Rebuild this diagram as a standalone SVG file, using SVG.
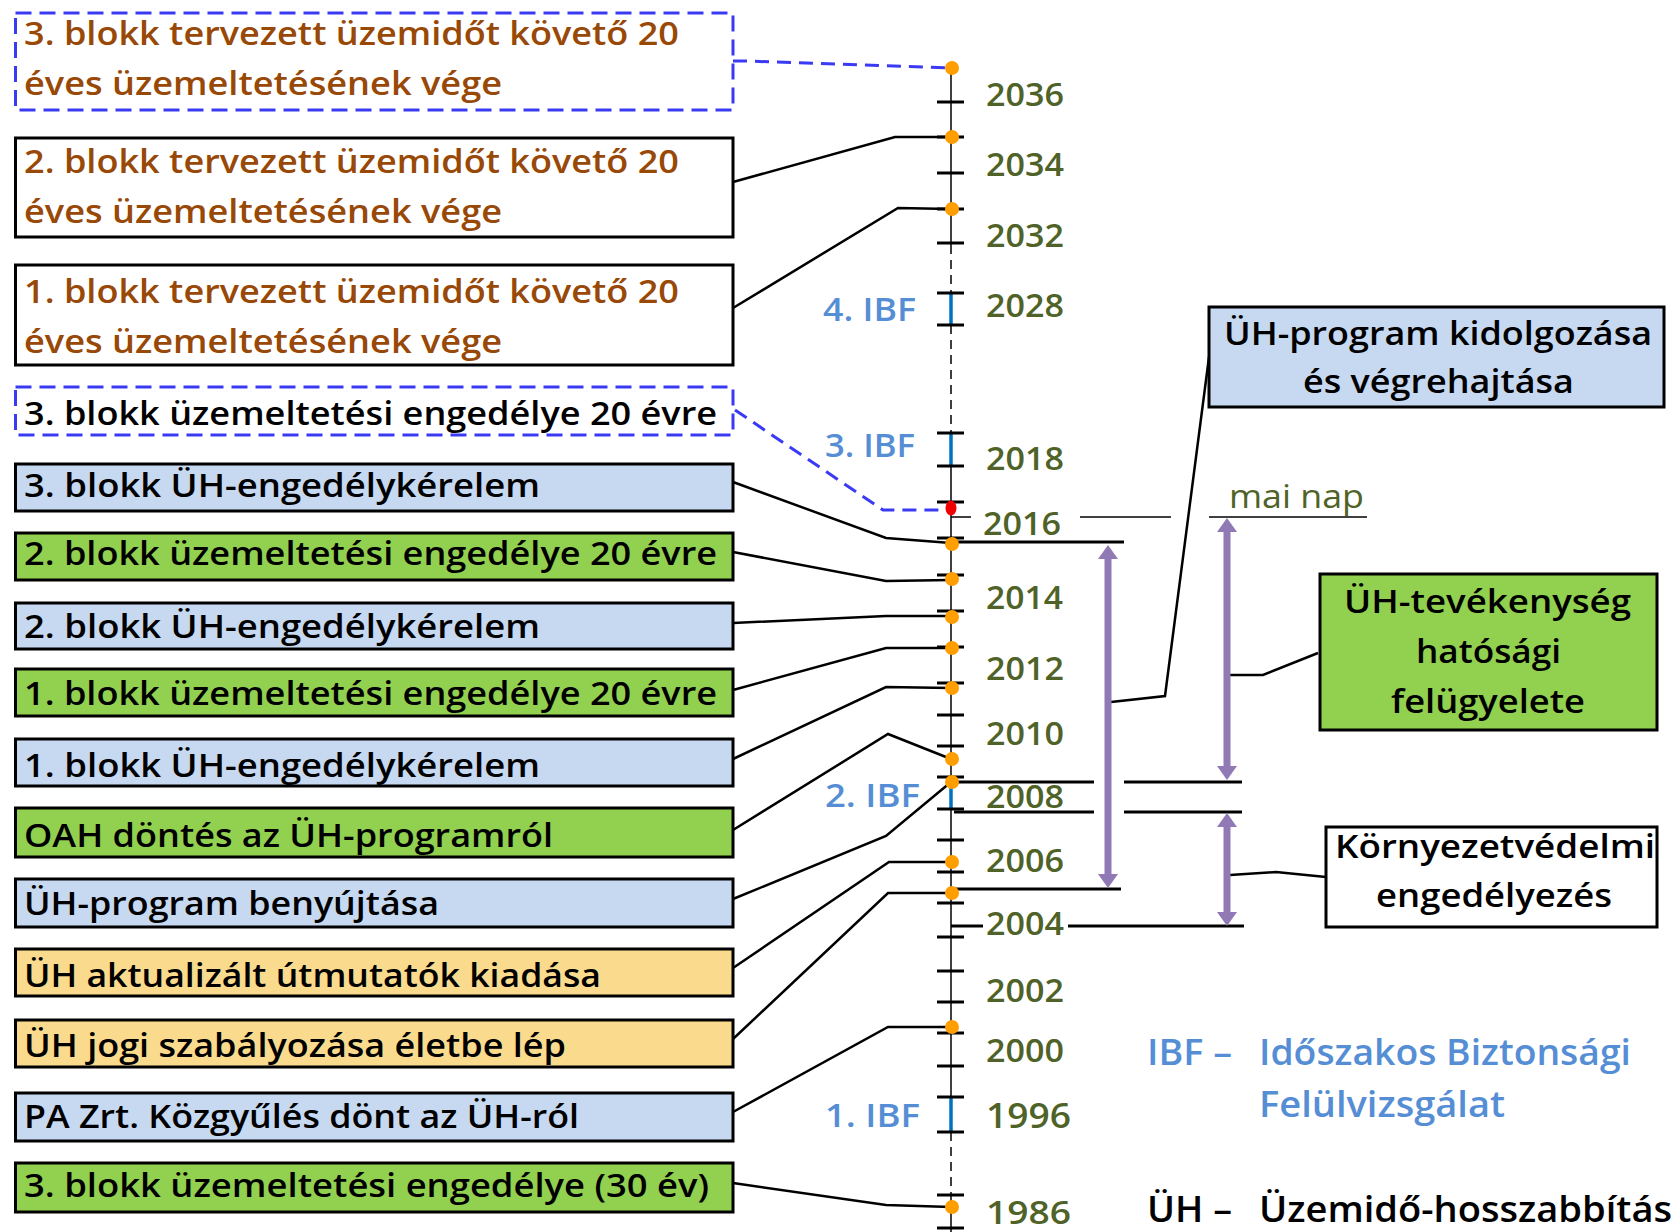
<svg xmlns="http://www.w3.org/2000/svg" width="1680" height="1232" viewBox="0 0 1680 1232">
<defs>
<style>
.t{font-family:"Open Sans","Liberation Sans",sans-serif;font-size:33px;font-weight:600;fill:#000}
.br{fill:#984807}
.yr{font-family:"Open Sans","Liberation Sans",sans-serif;font-size:32px;font-weight:600;fill:#4F6228}
.yb{font-size:35px}
.ibf{font-family:"Open Sans","Liberation Sans",sans-serif;font-size:32px;font-weight:600;fill:#558ED5}
.lg{font-family:"Open Sans","Liberation Sans",sans-serif;font-size:36px;font-weight:600}
.box{stroke:#000;stroke-width:3}
.dbox{fill:#fff;stroke:#3A3AF5;stroke-width:3;stroke-dasharray:16 8}
.blue{fill:#C6D9F1}
.green{fill:#92D050}
.yel{fill:#FADB8E}
.white{fill:#fff}
.con{fill:none;stroke:#000;stroke-width:2.5}
.dcon{fill:none;stroke:#3A3AF5;stroke-width:3;stroke-dasharray:14 8}
.tick{stroke:#000;stroke-width:3}
.seg{stroke:#0070C0;stroke-width:3.5}
.dot{fill:#FF9E00}
.arr{stroke:#9079B5;stroke-width:7;fill:none;marker-start:url(#ah);marker-end:url(#ah)}
.hl{stroke:#000;stroke-width:3}
.thin{stroke:#000;stroke-width:1.5}
</style>
<marker id="ah" viewBox="0 0 14 20" refX="0" refY="10" markerWidth="14" markerHeight="20" markerUnits="userSpaceOnUse" orient="auto-start-reverse">
<path d="M0,0 L14,10 L0,20 z" fill="#9079B5"/>
</marker>
</defs>
<rect width="1680" height="1232" fill="#fff"/>

<g id="axis">
<line x1="951" y1="68" x2="951" y2="245" class="thin"/>
<line x1="951" y1="245" x2="951" y2="293" class="thin" stroke-dasharray="9 6"/>
<line x1="951" y1="325" x2="951" y2="433" class="thin" stroke-dasharray="9 6"/>
<line x1="951" y1="433" x2="951" y2="1132" class="thin"/>
<line x1="951" y1="1132" x2="951" y2="1195" class="thin" stroke-dasharray="9 6"/>
<line x1="951" y1="1195" x2="951" y2="1232" class="thin"/>
<line x1="951" y1="293" x2="951" y2="325" class="seg"/>
<line x1="951" y1="433" x2="951" y2="466" class="seg"/>
<line x1="951" y1="777" x2="951" y2="808" class="seg"/>
<line x1="951" y1="1097" x2="951" y2="1132" class="seg"/>
<g class="tick">
<line x1="937" y1="102" x2="964" y2="102"/>
<line x1="937" y1="137" x2="964" y2="137"/>
<line x1="937" y1="173" x2="964" y2="173"/>
<line x1="937" y1="209" x2="964" y2="209"/>
<line x1="937" y1="243" x2="964" y2="243"/>
<line x1="937" y1="293" x2="964" y2="293"/>
<line x1="937" y1="325" x2="964" y2="325"/>
<line x1="937" y1="433" x2="964" y2="433"/>
<line x1="937" y1="466" x2="964" y2="466"/>
<line x1="937" y1="502" x2="964" y2="502"/>
<line x1="937" y1="538" x2="964" y2="538"/>
<line x1="937" y1="575" x2="964" y2="575"/>
<line x1="937" y1="611" x2="964" y2="611"/>
<line x1="937" y1="647" x2="964" y2="647"/>
<line x1="937" y1="683" x2="964" y2="683"/>
<line x1="937" y1="715" x2="964" y2="715"/>
<line x1="937" y1="746" x2="964" y2="746"/>
<line x1="937" y1="777" x2="964" y2="777"/>
<line x1="937" y1="809" x2="964" y2="809"/>
<line x1="937" y1="840" x2="964" y2="840"/>
<line x1="937" y1="872" x2="964" y2="872"/>
<line x1="937" y1="903" x2="964" y2="903"/>
<line x1="937" y1="937" x2="964" y2="937"/>
<line x1="937" y1="971" x2="964" y2="971"/>
<line x1="937" y1="1002" x2="964" y2="1002"/>
<line x1="937" y1="1033" x2="964" y2="1033"/>
<line x1="937" y1="1066" x2="964" y2="1066"/>
<line x1="937" y1="1097" x2="964" y2="1097"/>
<line x1="937" y1="1132" x2="964" y2="1132"/>
<line x1="937" y1="1195" x2="964" y2="1195"/>
<line x1="937" y1="1228" x2="964" y2="1228"/>
</g>
</g>

<g id="years">
<text class="yr" x="986" y="106" textLength="78" lengthAdjust="spacingAndGlyphs">2036</text>
<text class="yr" x="986" y="176" textLength="78" lengthAdjust="spacingAndGlyphs">2034</text>
<text class="yr" x="986" y="247" textLength="78" lengthAdjust="spacingAndGlyphs">2032</text>
<text class="yr" x="986" y="317" textLength="78" lengthAdjust="spacingAndGlyphs">2028</text>
<text class="yr" x="986" y="470" textLength="78" lengthAdjust="spacingAndGlyphs">2018</text>
<text class="yr" x="983" y="535" textLength="78" lengthAdjust="spacingAndGlyphs">2016</text>
<text class="yr" x="986" y="609" textLength="77" lengthAdjust="spacingAndGlyphs">2014</text>
<text class="yr" x="986" y="680" textLength="78" lengthAdjust="spacingAndGlyphs">2012</text>
<text class="yr" x="986" y="745" textLength="78" lengthAdjust="spacingAndGlyphs">2010</text>
<text class="yr" x="986" y="808" textLength="78" lengthAdjust="spacingAndGlyphs">2008</text>
<text class="yr" x="986" y="872" textLength="78" lengthAdjust="spacingAndGlyphs">2006</text>
<text class="yr" x="986" y="935" textLength="78" lengthAdjust="spacingAndGlyphs">2004</text>
<text class="yr" x="986" y="1002" textLength="78" lengthAdjust="spacingAndGlyphs">2002</text>
<text class="yr" x="986" y="1062" textLength="78" lengthAdjust="spacingAndGlyphs">2000</text>
<text class="yr yb" x="986" y="1128" textLength="85" lengthAdjust="spacingAndGlyphs">1996</text>
<text class="yr" x="986" y="1224" font-size="34" textLength="85" lengthAdjust="spacingAndGlyphs">1986</text>
</g>

<g id="ibf-labels">
<text class="ibf" x="823" y="321" textLength="93" lengthAdjust="spacingAndGlyphs">4. IBF</text>
<text class="ibf" x="825" y="457" textLength="90" lengthAdjust="spacingAndGlyphs">3. IBF</text>
<text class="ibf" x="825" y="807" textLength="95" lengthAdjust="spacingAndGlyphs">2. IBF</text>
<text class="ibf" x="825" y="1127" textLength="95" lengthAdjust="spacingAndGlyphs">1. IBF</text>
</g>

<g id="connectors">
<polyline class="dcon" points="733,61 745,61 951,68"/>
<polyline class="con" points="733,182 895,137 951,137"/>
<polyline class="con" points="733,308 898,208 951,209"/>
<polyline class="dcon" points="735,410 883,510 951,510"/>
<polyline class="con" points="733,482 886,538 951,543"/>
<polyline class="con" points="733,552 886,581 951,580"/>
<polyline class="con" points="733,623 886,616 951,616"/>
<polyline class="con" points="733,690 886,648 951,648"/>
<polyline class="con" points="733,759 886,687 951,688"/>
<polyline class="con" points="733,830 888,734 951,759"/>
<polyline class="con" points="733,899 886,836 951,782"/>
<polyline class="con" points="733,968 889,862 951,862"/>
<polyline class="con" points="733,1039 888,893 951,893"/>
<polyline class="con" points="733,1112 888,1027 951,1027"/>
<polyline class="con" points="733,1183 886,1205 951,1207"/>
<polyline class="con" points="1111,702 1165,696 1209,357"/>
<polyline class="con" points="1230,675 1263,675 1318,653"/>
<polyline class="con" points="1230,875 1276,872 1326,877"/>
<g>
<line class="thin" x1="951" y1="517" x2="971" y2="517"/>
<line class="thin" x1="1080" y1="517" x2="1171" y2="517"/>
<line class="thin" x1="1209" y1="517" x2="1367" y2="517"/>
<line class="hl" x1="954" y1="542" x2="1124" y2="542"/>
<line class="hl" x1="954" y1="889" x2="1121" y2="889"/>
<line class="hl" x1="954" y1="782" x2="1094" y2="782"/>
<line class="hl" x1="1124" y1="782" x2="1242" y2="782"/>
<line class="hl" x1="954" y1="812" x2="1094" y2="812"/>
<line class="hl" x1="1124" y1="812" x2="1242" y2="812"/>
<line class="hl" x1="951" y1="926" x2="983" y2="926"/>
<line class="hl" x1="1068" y1="926" x2="1244" y2="926"/>
</g>
<line class="arr" x1="1108" y1="559" x2="1108" y2="874"/>
<line class="arr" x1="1227" y1="532" x2="1227" y2="766"/>
<line class="arr" x1="1227" y1="827" x2="1227" y2="912"/>
</g>

<g id="dots">
<ellipse class="dot" cx="952" cy="68" rx="7" ry="7"/>
<ellipse class="dot" cx="952" cy="137" rx="7" ry="7"/>
<ellipse class="dot" cx="952" cy="209" rx="7" ry="7"/>
<ellipse cx="951" cy="508" rx="5.5" ry="7.5" fill="#F00000"/>
<ellipse class="dot" cx="952" cy="544" rx="7" ry="7"/>
<ellipse class="dot" cx="952" cy="579" rx="7" ry="7"/>
<ellipse class="dot" cx="952" cy="617" rx="7" ry="7"/>
<ellipse class="dot" cx="952" cy="648" rx="7" ry="7"/>
<ellipse class="dot" cx="952" cy="688" rx="7" ry="7"/>
<ellipse class="dot" cx="952" cy="759" rx="7" ry="7"/>
<ellipse class="dot" cx="952" cy="782" rx="7" ry="7"/>
<ellipse class="dot" cx="952" cy="862" rx="7" ry="7"/>
<ellipse class="dot" cx="952" cy="893" rx="7" ry="7"/>
<ellipse class="dot" cx="952" cy="1027" rx="7" ry="7"/>
<ellipse class="dot" cx="952" cy="1207" rx="7" ry="7"/>
</g>

<g id="mai-nap">
<text x="1229" y="508" font-family="Open Sans, Liberation Sans, sans-serif" font-size="32" fill="#4F6228" textLength="135" lengthAdjust="spacingAndGlyphs">mai nap</text>
</g>

<g id="n1">
<rect class="dbox" x="15.5" y="13" width="717.5" height="97"/>
<text class="t br" x="24" y="45" textLength="655" lengthAdjust="spacingAndGlyphs">3. blokk tervezett üzemidőt követő 20</text>
<text class="t br" x="24" y="95" textLength="478" lengthAdjust="spacingAndGlyphs">éves üzemeltetésének vége</text>
</g>
<g id="n2">
<rect class="box white" x="15.5" y="138" width="717.5" height="99"/>
<text class="t br" x="24" y="173" textLength="655" lengthAdjust="spacingAndGlyphs">2. blokk tervezett üzemidőt követő 20</text>
<text class="t br" x="24" y="223" textLength="478" lengthAdjust="spacingAndGlyphs">éves üzemeltetésének vége</text>
</g>
<g id="n3">
<rect class="box white" x="15.5" y="265" width="717.5" height="100"/>
<text class="t br" x="24" y="303" textLength="655" lengthAdjust="spacingAndGlyphs">1. blokk tervezett üzemidőt követő 20</text>
<text class="t br" x="24" y="353" textLength="478" lengthAdjust="spacingAndGlyphs">éves üzemeltetésének vége</text>
</g>
<g id="n4">
<rect class="dbox" x="15.5" y="387" width="717.5" height="48"/>
<text class="t" x="24" y="425" textLength="693" lengthAdjust="spacingAndGlyphs">3. blokk üzemeltetési engedélye 20 évre</text>
</g>
<g id="n5">
<rect class="box blue" x="15.5" y="464" width="717.5" height="47"/>
<text class="t" x="24" y="497" textLength="516" lengthAdjust="spacingAndGlyphs">3. blokk ÜH-engedélykérelem</text>
</g>
<g id="n6">
<rect class="box green" x="15.5" y="533" width="717.5" height="47"/>
<text class="t" x="24" y="565" textLength="693" lengthAdjust="spacingAndGlyphs">2. blokk üzemeltetési engedélye 20 évre</text>
</g>
<g id="n7">
<rect class="box blue" x="15.5" y="603" width="717.5" height="46"/>
<text class="t" x="24" y="638" textLength="516" lengthAdjust="spacingAndGlyphs">2. blokk ÜH-engedélykérelem</text>
</g>
<g id="n8">
<rect class="box green" x="15.5" y="669" width="717.5" height="47"/>
<text class="t" x="24" y="705" textLength="693" lengthAdjust="spacingAndGlyphs">1. blokk üzemeltetési engedélye 20 évre</text>
</g>
<g id="n9">
<rect class="box blue" x="15.5" y="739" width="717.5" height="47"/>
<text class="t" x="24" y="777" textLength="516" lengthAdjust="spacingAndGlyphs">1. blokk ÜH-engedélykérelem</text>
</g>
<g id="n10">
<rect class="box green" x="15.5" y="808" width="717.5" height="49"/>
<text class="t" x="24" y="847" textLength="529" lengthAdjust="spacingAndGlyphs">OAH döntés az ÜH-programról</text>
</g>
<g id="n11">
<rect class="box blue" x="15.5" y="879" width="717.5" height="48"/>
<text class="t" x="24" y="915" textLength="415" lengthAdjust="spacingAndGlyphs">ÜH-program benyújtása</text>
</g>
<g id="n12">
<rect class="box yel" x="15.5" y="949" width="717.5" height="47"/>
<text class="t" x="24" y="987" textLength="577" lengthAdjust="spacingAndGlyphs">ÜH aktualizált útmutatók kiadása</text>
</g>
<g id="n13">
<rect class="box yel" x="15.5" y="1020" width="717.5" height="47"/>
<text class="t" x="24" y="1057" textLength="542" lengthAdjust="spacingAndGlyphs">ÜH jogi szabályozása életbe lép</text>
</g>
<g id="n14">
<rect class="box blue" x="15.5" y="1093" width="717.5" height="48"/>
<text class="t" x="24" y="1128" textLength="555" lengthAdjust="spacingAndGlyphs">PA Zrt. Közgyűlés dönt az ÜH-ról</text>
</g>
<g id="n15">
<rect class="box green" x="15.5" y="1163" width="717.5" height="49"/>
<text class="t" x="24" y="1197" textLength="685" lengthAdjust="spacingAndGlyphs">3. blokk üzemeltetési engedélye (30 év)</text>
</g>

<g id="r1">
<rect class="box blue" x="1209" y="307" width="455" height="100"/>
<text class="t" x="1224" y="345" textLength="428" lengthAdjust="spacingAndGlyphs">ÜH-program kidolgozása</text>
<text class="t" x="1303" y="393" textLength="271" lengthAdjust="spacingAndGlyphs">és végrehajtása</text>
</g>
<g id="r2">
<rect class="box green" x="1320" y="574" width="337" height="156"/>
<text class="t" x="1344" y="613" textLength="287" lengthAdjust="spacingAndGlyphs">ÜH-tevékenység</text>
<text class="t" x="1416" y="663" textLength="145" lengthAdjust="spacingAndGlyphs">hatósági</text>
<text class="t" x="1391" y="713" textLength="194" lengthAdjust="spacingAndGlyphs">felügyelete</text>
</g>
<g id="r3">
<rect class="box white" x="1326" y="827" width="331" height="100"/>
<text class="t" x="1335" y="858" textLength="320" lengthAdjust="spacingAndGlyphs">Környezetvédelmi</text>
<text class="t" x="1376" y="907" textLength="236" lengthAdjust="spacingAndGlyphs">engedélyezés</text>
</g>

<g id="legend">
<text class="lg" x="1147" y="1065" fill="#558ED5" textLength="85" lengthAdjust="spacingAndGlyphs">IBF –</text>
<text class="lg" x="1259" y="1065" fill="#558ED5" textLength="372" lengthAdjust="spacingAndGlyphs">Időszakos Biztonsági</text>
<text class="lg" x="1259" y="1117" fill="#558ED5" textLength="246" lengthAdjust="spacingAndGlyphs">Felülvizsgálat</text>
<text class="lg" x="1147" y="1222" font-size="34" fill="#000" textLength="85" lengthAdjust="spacingAndGlyphs">ÜH –</text>
<text class="lg" x="1259" y="1222" font-size="34" fill="#000" textLength="413" lengthAdjust="spacingAndGlyphs">Üzemidő-hosszabbítás</text>
</g>
</svg>
